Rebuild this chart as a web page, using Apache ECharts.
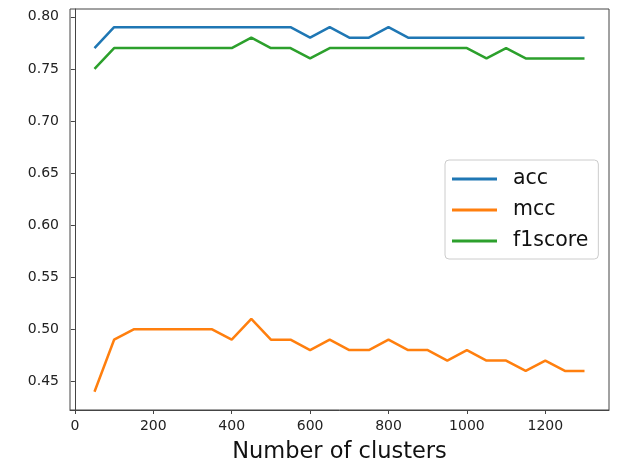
<!DOCTYPE html>
<html>
<head>
<meta charset="utf-8">
<script src="https://cdn.jsdelivr.net/npm/echarts@6/dist/echarts.min.js"></script>
<style>
html,body{margin:0;padding:0;background:#fff;}
#chart{width:618px;height:460px;}
</style>
</head>
<body>
<div id="chart"></div>
<script>
var clusters = [50,100,150,200,250,300,350,400,450,500,550,600,650,700,750,800,850,900,950,1000,1050,1100,1150,1200,1250,1300];
var acc = [0.77,0.79,0.79,0.79,0.79,0.79,0.79,0.79,0.79,0.79,0.79,0.78,0.79,0.78,0.78,0.79,0.78,0.78,0.78,0.78,0.78,0.78,0.78,0.78,0.78,0.78];
var mcc = [0.44,0.49,0.50,0.50,0.50,0.50,0.50,0.49,0.51,0.49,0.49,0.48,0.49,0.48,0.48,0.49,0.48,0.48,0.47,0.48,0.47,0.47,0.46,0.47,0.46,0.46];
var f1score = [0.75,0.77,0.77,0.77,0.77,0.77,0.77,0.77,0.78,0.77,0.77,0.76,0.77,0.77,0.77,0.77,0.77,0.77,0.77,0.77,0.76,0.77,0.76,0.76,0.76,0.76];
var xTicks = [0,200,400,600,800,1000,1200];
var yTicks = [0.45,0.50,0.55,0.60,0.65,0.70,0.75,0.80];

function pairs(ys){ return clusters.map(function(x,i){ return [x, ys[i]]; }); }

var font = 'DejaVu Sans';
var chart = echarts.init(document.getElementById('chart'), null, {renderer:'canvas'});
function mk(name, data, color){
  return {name:name, type:'line', data:pairs(data), showSymbol:false, symbol:'none',
    lineStyle:{color:color, width:2.5}, itemStyle:{color:color}, animation:false, z:3};
}
chart.setOption({
  animation:false,
  backgroundColor:'#fff',
  grid:{left:70, right:9, top:9, bottom:50, show:true, borderColor:'#444', borderWidth:1,
    backgroundColor:'transparent', containLabel:false, outerBoundsMode:'none'},
  xAxis:{type:'value', min:-12.5, max:1362.5,
    name:'Number of clusters', nameLocation:'middle', nameGap:31,
    nameTextStyle:{fontFamily:font, fontSize:22.5, color:'#111'},
    axisLine:{show:true, lineStyle:{color:'#444', width:1}},
    axisTick:{show:true, inside:false, length:4, lineStyle:{color:'#444'}, customValues:xTicks},
    axisLabel:{fontFamily:font, fontSize:14, color:'#222', margin:9, customValues:xTicks,
      formatter:function(v){ return String(v); }},
    splitLine:{show:false}},
  yAxis:{type:'value', min:0.4225, max:0.8075,
    axisLine:{show:true, lineStyle:{color:'#444', width:1}},
    axisTick:{show:true, inside:false, length:4, lineStyle:{color:'#444'}, customValues:yTicks},
    axisLabel:{fontFamily:font, fontSize:14, color:'#222', margin:11, customValues:yTicks,
      formatter:function(v){ return v.toFixed(2); }},
    splitLine:{show:false}},
  legend:{orient:'vertical', left:445, top:160,
    padding:[8,10,7,7], itemGap:9, itemWidth:45, itemHeight:3, icon:'rect',
    borderColor:'#ccc', borderWidth:1, borderRadius:4, backgroundColor:'#fff',
    textStyle:{fontFamily:font, fontSize:20.5, color:'#111', lineHeight:22, padding:[0,0,0,11]},
    data:['acc','mcc','f1score']},
  series:[mk('acc',acc,'#1f77b4'), mk('mcc',mcc,'#ff7f0e'), mk('f1score',f1score,'#2ca02c')]
});
</script>
</body>
</html>
